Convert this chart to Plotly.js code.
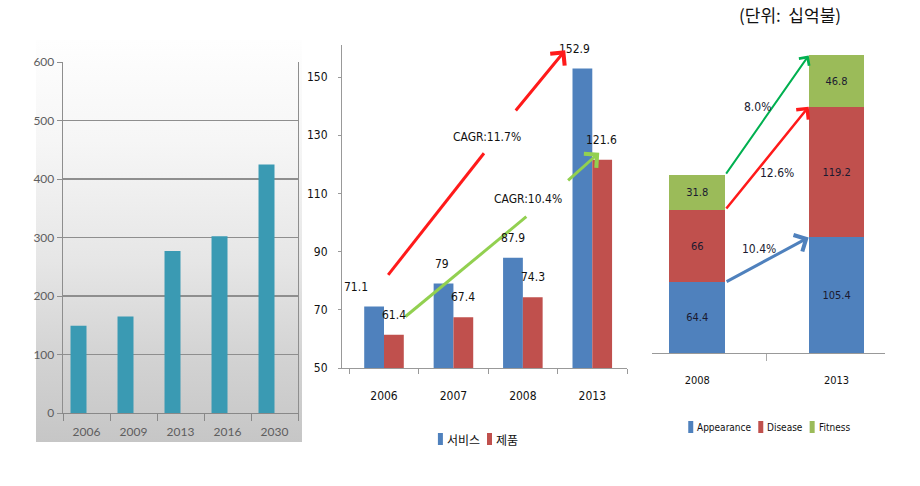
<!DOCTYPE html>
<html>
<head>
<meta charset="utf-8">
<script src="https://cdn.plot.ly/plotly-3.0.1.min.js"></script>
<style>
  html, body { margin:0; padding:0; background:#ffffff; width:920px; height:486px; overflow:hidden; }
  .abs { position:absolute; }
</style>
</head>
<body>
<div id="bg1" class="abs" style="left:36px;top:40px;width:266px;height:402px;background:linear-gradient(#fefefe 0%, #f6f6f6 25%, #e6e6e6 55%, #d2d2d2 80%, #c6c6c6 100%);"></div>
<div id="c1" class="abs" style="left:0px;top:0px;width:310px;height:486px;"></div>
<div id="c2" class="abs" style="left:290px;top:0px;width:340px;height:486px;"></div>
<div id="c3" class="abs" style="left:630px;top:0px;width:290px;height:486px;"></div>
<script>
// ---------- data ----------
const c1Years = ['2006', '2009', '2013', '2016', '2030'];
const c1Values = [149, 165, 277, 302, 425];

const c2Years = ['2006', '2007', '2008', '2013'];
const c2Service = [71.1, 79, 87.9, 152.9];
const c2Product = [61.4, 67.4, 74.3, 121.6];
const c2Names = ['서비스', '제품'];
const c2Cagr = ['CAGR:11.7%', 'CAGR:10.4%'];

const c3Years = ['2008', '2013'];
const c3Appearance = [64.4, 105.4];
const c3Disease = [66, 119.2];
const c3Fitness = [31.8, 46.8];
const c3Names = ['Appearance', 'Disease', 'Fitness'];
const c3Growth = ['10.4%', '12.6%', '8.0%'];
const unitLabel = '(단위:  십억불)';

// ---------- styles ----------
const COND = 'DejaVu Sans Condensed';
const NUMFONT = '"DejaVu Sans Condensed", "DejaVu Sans", sans-serif';
const KRFAM = 'Noto Sans CJK KR';
const KR = '"Noto Sans CJK KR", sans-serif';
const BLUE = '#4f81bd', RED = '#c0504d', GREEN = '#9bbb59';
const cfg = {staticPlot: true, displayModeBar: false};

const measCtx = document.createElement('canvas').getContext('2d');
function textWidth(t, size, fam) {
  measCtx.font = size + 'px "' + fam + '"';
  return measCtx.measureText(t).width;
}
// custom compact legend: swatches as shapes + names as annotations (paper coords of plot area)
function compactLegend(names, colors, centerPx, midPy, box, fontSize, fam, famCss) {
  const sw = 5, sh = 12, gapIn = 2, gapOut = 9;
  const widths = names.map(n => textWidth(n, fontSize, fam));
  const total = widths.reduce((a, w) => a + sw + gapIn + w, 0) + gapOut * (names.length - 1);
  let x = centerPx - total / 2;
  const fx = px => (px - box.left) / box.w;
  const fy = py => (box.bottom - py) / box.h;
  const shapes = [], anns = [];
  names.forEach((n, i) => {
    shapes.push({type: 'rect', xref: 'paper', yref: 'paper', x0: fx(x), x1: fx(x + sw),
                 y0: fy(midPy + sh / 2), y1: fy(midPy - sh / 2), fillcolor: colors[i], line: {width: 0}});
    anns.push({xref: 'paper', yref: 'paper', x: fx(x + sw + gapIn), y: fy(midPy), xanchor: 'left',
               yanchor: 'middle', text: n, showarrow: false, font: {family: famCss, size: fontSize, color: '#111'}});
    x += sw + gapIn + widths[i] + gapOut;
  });
  return {shapes, anns};
}

// ---------- chart 1 ----------
Plotly.newPlot('c1', [{
  type: 'bar', x: c1Years, y: c1Values, width: 0.34, offset: -0.34,
  marker: {color: '#3a9ab3', line: {width: 0}}, hoverinfo: 'skip'
}], {
  width: 310, height: 486,
  margin: {l: 63, r: 12, t: 62, b: 73},
  paper_bgcolor: 'rgba(0,0,0,0)', plot_bgcolor: 'rgba(0,0,0,0)',
  showlegend: false,
  xaxis: {type: 'category', tickson: 'boundaries', ticks: 'outside', ticklen: 7, tickcolor: '#888',
          showline: true, linecolor: '#888', linewidth: 1, showgrid: false, ticklabelstandoff: 8,
          tickfont: {family: 'Lato, sans-serif', size: 12, color: '#5e5e5e'}},
  yaxis: {range: [0, 600], dtick: 100, showgrid: true, gridcolor: '#8e8e8e', gridwidth: 1.3,
          showline: true, mirror: true, linecolor: '#8e8e8e', linewidth: 1.3, zeroline: false,
          ticks: 'outside', ticklen: 5, tickcolor: '#8e8e8e', ticklabelstandoff: 0,
          tickfont: {family: 'Lato, sans-serif', size: 12, color: '#5e5e5e'}}
}, cfg);

// ---------- chart 2 ----------
const box2 = {left: 342, w: 285, bottom: 368, h: 323};
const blueDx = [-28, -11, -10, -18];
const redDx = [10, 10, 10, 9];
const c2Ann = [];
c2Years.forEach((yr, i) => {
  c2Ann.push({x: i, y: c2Service[i], xref: 'x', yref: 'y', text: String(c2Service[i]), showarrow: false,
              xshift: blueDx[i], yshift: 20, font: {family: NUMFONT, size: 12, color: '#111'}});
  c2Ann.push({x: i, y: c2Product[i], xref: 'x', yref: 'y', text: String(c2Product[i]), showarrow: false,
              xshift: redDx[i], yshift: 20, font: {family: NUMFONT, size: 12, color: '#111'}});
});
// arrow geometry (annotation decorations)
const c2RedTail = [0.06, 82.0, 1.44, 123.8];
const c2RedHead = [1.88, 138.0, 2.61, 159.2];
const c2GreenTail = [0.31, 67.7, 2.05, 102.0];
const c2GreenHead = [2.63, 114.0, 3.10, 124.0];
const c2CagrPos = [[1.48, 129.4], [2.07, 108.0]];
c2Ann.push({x: c2RedHead[2], y: c2RedHead[3], ax: c2RedHead[0], ay: c2RedHead[1], xref: 'x', yref: 'y',
            axref: 'x', ayref: 'y', text: '', showarrow: true, arrowhead: 4, arrowsize: 1.2, arrowwidth: 3,
            arrowcolor: '#ff1a1a'});
c2Ann.push({x: c2GreenHead[2], y: c2GreenHead[3], ax: c2GreenHead[0], ay: c2GreenHead[1], xref: 'x', yref: 'y',
            axref: 'x', ayref: 'y', text: '', showarrow: true, arrowhead: 4, arrowsize: 1.2, arrowwidth: 3,
            arrowcolor: '#92d050'});
c2Cagr.forEach((t, k) => {
  c2Ann.push({x: c2CagrPos[k][0], y: c2CagrPos[k][1], xref: 'x', yref: 'y', text: t, showarrow: false,
              font: {family: NUMFONT, size: 12, color: '#111'}});
});
const leg2 = compactLegend(c2Names, [BLUE, RED], 477, 439, box2, 12, KRFAM, KR);
Plotly.newPlot('c2', [
  {type: 'bar', name: c2Names[0], x: c2Years, y: c2Service, marker: {color: BLUE}, hoverinfo: 'skip'},
  {type: 'bar', name: c2Names[1], x: c2Years, y: c2Product, marker: {color: RED}, hoverinfo: 'skip'}
], {
  width: 340, height: 486,
  margin: {l: 52, r: 3, t: 45, b: 118},
  paper_bgcolor: 'rgba(0,0,0,0)', plot_bgcolor: 'rgba(0,0,0,0)',
  barmode: 'group', bargap: 0.43, bargroupgap: 0,
  showlegend: false,
  xaxis: {type: 'category', tickson: 'boundaries', ticks: 'outside', ticklen: 5, tickcolor: '#999',
          showline: true, linecolor: '#999', showgrid: false, ticklabelstandoff: 17,
          tickfont: {family: NUMFONT, size: 12, color: '#111'}},
  yaxis: {range: [50, 161], tickvals: [50, 70, 90, 110, 130, 150], showgrid: false, zeroline: false,
          showline: true, linecolor: '#999', ticks: 'outside', ticklen: 3, tickcolor: '#999',
          ticklabelstandoff: 8, tickfont: {family: NUMFONT, size: 12, color: '#111'}},
  shapes: [
    {type: 'line', xref: 'x', yref: 'y', x0: c2RedTail[0], y0: c2RedTail[1], x1: c2RedTail[2], y1: c2RedTail[3],
     line: {color: '#ff1a1a', width: 3}},
    {type: 'line', xref: 'x', yref: 'y', x0: c2GreenTail[0], y0: c2GreenTail[1], x1: c2GreenTail[2], y1: c2GreenTail[3],
     line: {color: '#92d050', width: 3}}
  ].concat(leg2.shapes),
  annotations: c2Ann.concat(leg2.anns)
}, cfg);

// ---------- chart 3 ----------
const box3 = {left: 652, w: 233, bottom: 353, h: 307};
const cum1 = c3Appearance;
const cum2 = c3Appearance.map((v, i) => v + c3Disease[i]);
const cum3 = cum2.map((v, i) => v + c3Fitness[i]);
const c3GrowthPos = [[0.44, 94.5], [0.57, 164.5], [0.43, 224.3]];
const c3ArrowColors = ['#4f81bd', '#ff1a1a', '#00b050'];
const c3ArrowWidths = [3, 2.5, 2];
const c3Ann = [];
[cum1, cum2, cum3].forEach((c, k) => {
  c3Ann.push({x: 0.8, y: c[1], ax: 0.2, ay: c[0], xref: 'x', yref: 'y', axref: 'x', ayref: 'y',
              text: '', showarrow: true, arrowhead: 4, arrowsize: 1.2, arrowwidth: c3ArrowWidths[k],
              arrowcolor: c3ArrowColors[k]});
  c3Ann.push({x: c3GrowthPos[k][0], y: c3GrowthPos[k][1], xref: 'x', yref: 'y', text: c3Growth[k],
              showarrow: false, font: {family: NUMFONT, size: 12, color: '#1a1a30'}});
});
c3Ann.push({x: (790 - box3.left) / box3.w, y: (box3.bottom - 15) / box3.h, xref: 'paper', yref: 'paper',
            xanchor: 'center', yanchor: 'middle', text: unitLabel, showarrow: false,
            font: {family: KR, size: 17, color: '#111'}});
const leg3 = compactLegend(c3Names, [BLUE, RED, GREEN], 768, 427, box3, 10, COND, NUMFONT);
const segText = {family: NUMFONT, size: 11, color: '#1a1a30'};
Plotly.newPlot('c3', [
  {type: 'bar', name: c3Names[0], x: c3Years, y: c3Appearance, marker: {color: BLUE},
   text: c3Appearance.map(String), textposition: 'inside', insidetextanchor: 'middle', textangle: 0,
   textfont: segText, hoverinfo: 'skip'},
  {type: 'bar', name: c3Names[1], x: c3Years, y: c3Disease, marker: {color: RED},
   text: c3Disease.map(String), textposition: 'inside', insidetextanchor: 'middle', textangle: 0,
   textfont: segText, hoverinfo: 'skip'},
  {type: 'bar', name: c3Names[2], x: c3Years, y: c3Fitness, marker: {color: GREEN},
   text: c3Fitness.map(String), textposition: 'inside', insidetextanchor: 'middle', textangle: 0,
   textfont: segText, hoverinfo: 'skip'}
], {
  width: 290, height: 486,
  margin: {l: 22, r: 35, t: 46, b: 133},
  paper_bgcolor: 'rgba(0,0,0,0)', plot_bgcolor: 'rgba(0,0,0,0)',
  barmode: 'stack', bargap: 0.6,
  showlegend: false,
  xaxis: {type: 'category', range: [-0.325, 1.348], tickson: 'boundaries', ticks: 'outside', ticklen: 7,
          tickcolor: '#aaa', showline: true, linecolor: '#999', showgrid: false, ticklabelstandoff: 17,
          tickfont: {family: NUMFONT, size: 11, color: '#111'}},
  yaxis: {range: [0, 280], visible: false, showgrid: false, zeroline: false},
  shapes: leg3.shapes,
  annotations: c3Ann.concat(leg3.anns)
}, cfg);
</script>
</body>
</html>
